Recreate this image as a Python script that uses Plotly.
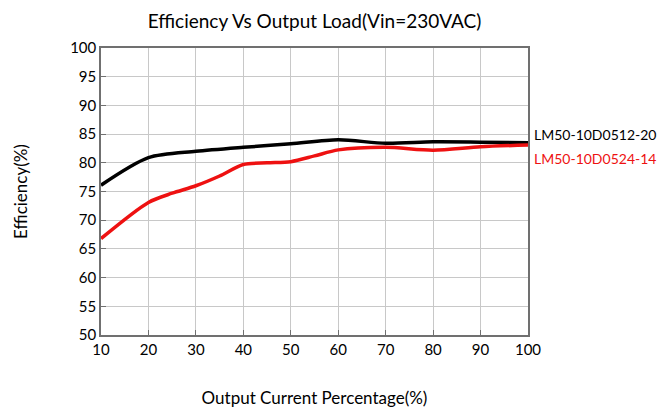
import plotly.graph_objects as go

load_pct = [10, 20, 30, 40, 50, 60, 70, 80, 90, 100]
eff_0512 = [76.1, 80.9, 82.0, 82.7, 83.3, 84.0, 83.4, 83.65, 83.6, 83.5]
red_x = [10, 20, 25, 30, 35, 40, 45, 50, 55, 60, 70, 80, 90, 100]
eff_0524 = [66.8, 73.1, 74.7, 76.0, 77.7, 79.7, 80.0, 80.2, 81.2, 82.25, 82.7, 82.2, 82.8, 83.1]
names = ["LM50-10D0512-20", "LM50-10D0524-14"]
colors = ["#000000", "#ee1111"]

font = "Lato, 'DejaVu Sans', sans-serif"

fig = go.Figure()
fig.add_trace(go.Scatter(x=load_pct, y=eff_0512, mode="lines", name=names[0],
                         line=dict(color=colors[0], width=3.5, shape="spline", smoothing=0.8)))
fig.add_trace(go.Scatter(x=red_x, y=eff_0524, mode="lines", name=names[1],
                         line=dict(color=colors[1], width=3.5, shape="spline", smoothing=0.8)))

fig.add_annotation(x=1.0, xref="paper", y=eff_0512[-1] + 1.4, yref="y", text=names[0],
                   showarrow=False, xanchor="left", xshift=4,
                   font=dict(family=font, size=14, color=colors[0]))
fig.add_annotation(x=1.0, xref="paper", y=eff_0524[-1] - 2.3, yref="y", text=names[1],
                   showarrow=False, xanchor="left", xshift=4,
                   font=dict(family=font, size=14, color=colors[1]))

fig.update_layout(
    width=668, height=409,
    margin=dict(l=93, r=148, t=40, b=82, autoexpand=False),
    paper_bgcolor="white", plot_bgcolor="white",
    showlegend=False,
    font=dict(family=font, size=15, color="#000"),
    title=dict(text="Efficiency Vs Output Load(Vin=230VAC)", x=0.5, xref="paper",
               xanchor="center", y=1 - 13 / 409, yanchor="middle", yref="container",
               font=dict(family=font, size=19, color="#000")),
)
fig.update_xaxes(range=[10, 100], tickvals=load_pct, showgrid=True, gridcolor="#c8c8c8",
                 gridwidth=1, showline=True, linecolor="#707070", linewidth=1.5, mirror=True,
                 ticks="inside", ticklen=5, tickcolor="#707070", zeroline=False,
                 automargin=False,
                 title=dict(text="Output Current Percentage(%)", standoff=35,
                            font=dict(family=font, size=17)),
                 tickfont=dict(family=font, size=15))
fig.update_yaxes(range=[50, 100], dtick=5, showgrid=True, gridcolor="#c8c8c8",
                 gridwidth=1, showline=True, linecolor="#707070", linewidth=1.5, mirror=True,
                 ticks="inside", ticklen=5, tickcolor="#707070", zeroline=False,
                 automargin=False,
                 title=dict(text="Efficiency(%)", standoff=38,
                            font=dict(family=font, size=17)),
                 tickfont=dict(family=font, size=15))

fig.write_html("out.html")
